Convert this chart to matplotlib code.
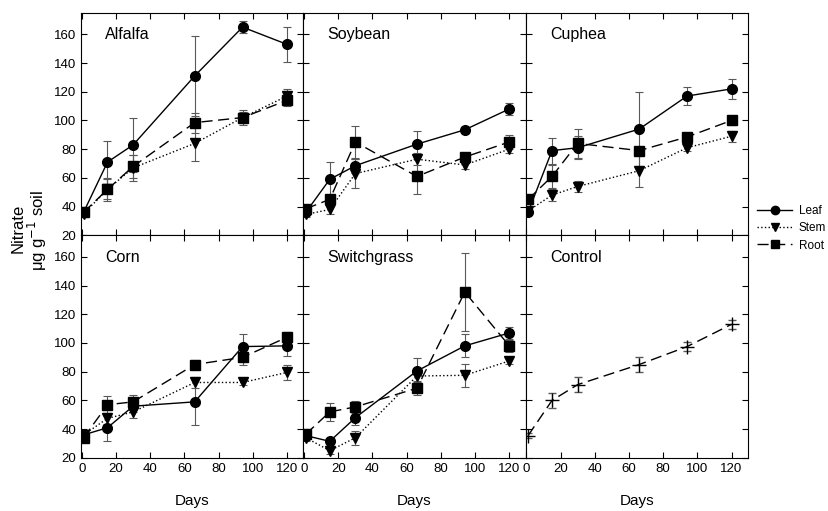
import matplotlib
matplotlib.use("Agg")
import matplotlib.pyplot as plt
from matplotlib.lines import Line2D

plt.rcParams['font.family'] = ['Liberation Sans', 'DejaVu Sans']

# Données : jours d'échantillonnage
days = [1, 15, 30, 66, 94, 120]

alfalfa_leaf = [36, 71, 83, 131, 165, 153]
alfalfa_leaf_err = [2, 15, 19, 28, 4, 12]
alfalfa_stem = [35, 52, 67, 84, 102, 117]
alfalfa_stem_err = [2, 7, 9, 12, 4, 5]
alfalfa_root = [36, 52, 68, 98.5, 102, 114]
alfalfa_root_err = [2, 8, 8, 7, 5, 4]

soybean_leaf = [36, 59, 68.5, 83.5, 93.5, 108]
soybean_leaf_err = [2, 12, 5, 9, 2, 4.5]
soybean_stem = [34.5, 38, 63, 73, 69, 80]
soybean_stem_err = [2, 3, 10, 4, 3, 3]
soybean_root = [38.5, 45, 85, 61, 74.5, 85]
soybean_root_err = [2, 3, 11, 12, 3, 5]

cuphea_leaf = [36, 79, 81, 94, 117, 122]
cuphea_leaf_err = [2, 9, 8, 26, 6, 7]
cuphea_stem = [37, 48, 54, 65, 81, 89]
cuphea_stem_err = [2, 4, 4, 11.5, 2, 4]
cuphea_root = [45, 61, 84, 79, 88.5, 100]
cuphea_root_err = [2, 8, 10, 2, 2, 3]

corn_leaf = [36, 41, 56, 59, 97.5, 98]
corn_leaf_err = [2, 9, 4, 16, 8.5, 7]
corn_stem = [36, 47.5, 52, 72.5, 72.5, 79.5]
corn_stem_err = [2, 4, 4, 4, 2, 5]
corn_root = [34, 57, 59, 85, 90, 104]
corn_root_err = [2, 6, 5, 3, 5, 4]

switch_leaf = [35.5, 31.5, 48, 80.5, 98, 107]
switch_leaf_err = [2, 2, 5, 9, 8, 4]
switch_stem = [34, 25, 34, 77, 77.5, 87.5]
switch_stem_err = [2, 2, 5, 4, 8, 2]
switch_root = [36.5, 52, 55.5, 68.5, 135.5, 98]
switch_root_err = [2, 6, 4, 5, 27, 4]

control = [35.5, 60, 71, 85, 97.5, 113]
control_err = [2, 5, 5, 5, 3, 3]

crops = ['Alfalfa', 'Soybean', 'Cuphea', 'Corn', 'Switchgrass']
leaf = [alfalfa_leaf, soybean_leaf, cuphea_leaf, corn_leaf, switch_leaf]
leaf_err = [alfalfa_leaf_err, soybean_leaf_err, cuphea_leaf_err, corn_leaf_err, switch_leaf_err]
stem = [alfalfa_stem, soybean_stem, cuphea_stem, corn_stem, switch_stem]
stem_err = [alfalfa_stem_err, soybean_stem_err, cuphea_stem_err, corn_stem_err, switch_stem_err]
root = [alfalfa_root, soybean_root, cuphea_root, corn_root, switch_root]
root_err = [alfalfa_root_err, soybean_root_err, cuphea_root_err, corn_root_err, switch_root_err]

dash = (0, (8, 4))

fig, axes = plt.subplots(2, 3, sharex=True, sharey=True, figsize=(8.29, 5.11), dpi=100)
fig.subplots_adjust(left=0.0977, right=0.902, top=0.975, bottom=0.104, wspace=0, hspace=0)
axes = axes.flatten()

eb = dict(ecolor='0.35', elinewidth=0.8, capsize=3, capthick=0.8)
for i in range(5):
    ax = axes[i]
    ax.errorbar(days, leaf[i], yerr=leaf_err[i], color='black', ls='-', lw=1,
                marker='o', ms=7, **eb)
    ax.errorbar(days, stem[i], yerr=stem_err[i], color='black', ls=':', lw=1,
                marker='v', ms=7, **eb)
    ax.errorbar(days, root[i], yerr=root_err[i], color='black', ls=dash, lw=1,
                marker='s', ms=6.5, **eb)
    ax.text(0.11, 0.88, crops[i], transform=ax.transAxes, fontsize=11.5)

ax = axes[5]
ax.errorbar(days, control, yerr=control_err, color='black', ls=dash, lw=1,
            marker='+', ms=10, mew=1, **eb)
ax.text(0.11, 0.88, 'Control', transform=ax.transAxes, fontsize=11.5)

for ax in axes:
    ax.set_xlim(-0.5, 129.5)
    ax.set_ylim(20, 175)
    ax.set_xticks(range(0, 121, 20))
    ax.set_yticks(range(20, 161, 20))
    ax.tick_params(direction='in', top=True, right=True, length=4, width=0.8, labelsize=9.5)
    for s in ax.spines.values():
        s.set_linewidth(0.8)
for ax in axes[3:]:
    ax.set_xlabel('Days', fontsize=11, labelpad=14)

# Titre de l'axe y sur deux lignes
fig.text(18 / 829, 1 - 228 / 511, 'Nitrate', rotation=90, ha='center', va='center', fontsize=12)
fig.text(37 / 829, 1 - 230 / 511, r'μg g$^{-1}$ soil', rotation=90, ha='center', va='center',
         fontsize=12)

# Légende sans barres d'erreur
handles = [Line2D([], [], color='black', ls='-', lw=1, marker='o', ms=6),
           Line2D([], [], color='black', ls=':', lw=1, marker='v', ms=6),
           Line2D([], [], color='black', ls=dash, lw=1, marker='s', ms=5.5)]
fig.legend(handles, ['Leaf', 'Stem', 'Root'], loc='upper left',
           bbox_to_anchor=(0.913, 1 - 205 / 511), frameon=False, handlelength=3.0,
           fontsize=8.5, labelspacing=0.45, borderaxespad=0, borderpad=0, handletextpad=0.55)

plt.savefig('out.png', dpi=100)
